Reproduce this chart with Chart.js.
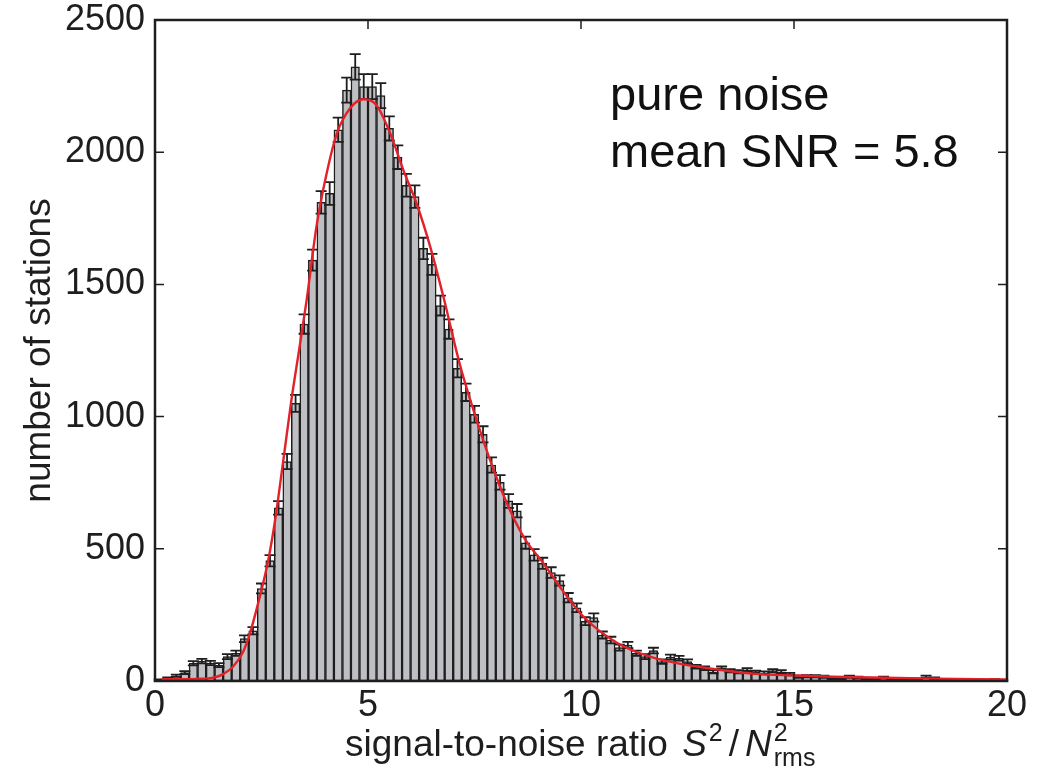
<!DOCTYPE html>
<html>
<head>
<meta charset="utf-8">
<script src="https://cdn.jsdelivr.net/npm/chart.js@4.4.1/dist/chart.umd.min.js"></script>
<style>
  html, body { margin: 0; padding: 0; background: #fff; }
  #wrap { width: 1055px; height: 771px; }
</style>
</head>
<body>
<div id="wrap"><canvas id="myChart" width="1055" height="771"></canvas></div>
<script>
// histogram of SNR, bins 0.2 wide from 0 to 20
const binWidth = 0.2;
const counts = [
  4, 10, 20, 32, 67, 75, 68, 60, 92, 105,
  160, 190, 350, 455, 655, 830, 1050, 1350, 1592, 1810,
  1844, 2085, 2235, 2323, 2248, 2248, 2214, 2090, 1981, 1875,
  1832, 1636, 1576, 1420, 1331, 1183, 1092, 1009, 933, 817,
  751, 681, 644, 523, 477, 445, 410, 380, 315, 277,
  226, 240, 174, 155, 126, 136, 105, 92, 115, 73,
  90, 86, 73, 54, 48, 35, 48, 39, 35, 42,
  33, 31, 39, 35, 26, 16, 18, 18, 16, 10,
  10, 16, 13, 8, 6, 13, 6, 3, 5, 7,
  16, 10, 3, 3, 2, 2, 3, 2, 5, 2
];

// red fitted curve
const fitX = [0.15, 0.5, 1.0, 1.3, 1.45, 1.6, 1.83, 2.07, 2.23, 2.46, 2.66, 2.82, 3.0, 3.2, 3.4, 3.56,
  3.79, 4.03, 4.27, 4.58, 4.89, 5.2, 5.52, 5.83, 6.14, 6.46, 6.77, 7.15, 7.55, 7.95, 8.33, 8.7,
  9.12, 9.5, 10.06, 10.84, 11.62, 12.4, 13.19, 14.1, 15.0, 15.9, 17.9, 20.0];
const fitY = [7, 7, 8, 11, 16, 26, 54, 111, 181, 319, 458, 609, 820, 1060, 1270, 1441,
  1718, 1920, 2071, 2166, 2200, 2178, 2072, 1932, 1806, 1643, 1453, 1201, 987, 798, 647, 533,
  445, 357, 243, 145, 92, 63, 44, 27, 21, 16, 10, 6];

const xTicks = [0, 5, 10, 15, 20];
const yTicks = [0, 500, 1000, 1500, 2000, 2500];
const noteLines = ['pure noise', 'mean SNR = 5.8'];

const FONT = '"Liberation Sans", Arial, Helvetica, sans-serif';
const INK = '#1e1e1e';

const barData = counts.map((c, i) => ({ x: (i + 0.5) * binWidth, y: c }));
const fitData = fitX.map((x, i) => ({ x: x, y: fitY[i] }));

// error bars (Poisson, sqrt N) drawn right after the bars
const errorBars = {
  id: 'errorBars',
  afterDatasetDraw(chart, args) {
    if (args.index !== 0) return;
    const ctx = chart.ctx;
    const xs = chart.scales.x, ys = chart.scales.y;
    ctx.save();
    ctx.strokeStyle = INK;
    ctx.lineWidth = 1.8;
    barData.forEach(p => {
      const e = Math.sqrt(p.y);
      const px = xs.getPixelForValue(p.x);
      const y1 = ys.getPixelForValue(p.y + e);
      const y2 = ys.getPixelForValue(Math.max(p.y - e, 0));
      ctx.beginPath();
      ctx.moveTo(px, y1); ctx.lineTo(px, y2);
      ctx.moveTo(px - 5.5, y1); ctx.lineTo(px + 5.5, y1);
      ctx.moveTo(px - 5.5, y2); ctx.lineTo(px + 5.5, y2);
      ctx.stroke();
    });
    ctx.restore();
  }
};

// box, inward ticks, annotation and x-axis label
const frame = {
  id: 'frame',
  afterDraw(chart) {
    const ctx = chart.ctx;
    const a = chart.chartArea;
    const xs = chart.scales.x, ys = chart.scales.y;
    ctx.save();
    ctx.strokeStyle = INK;
    ctx.lineWidth = 1.5;
    ctx.beginPath();
    yTicks.forEach(v => {
      const py = ys.getPixelForValue(v);
      ctx.moveTo(a.left, py); ctx.lineTo(a.left + 9, py);
      ctx.moveTo(a.right, py); ctx.lineTo(a.right - 9, py);
    });
    xTicks.forEach(v => {
      const px = xs.getPixelForValue(v);
      ctx.moveTo(px, a.bottom); ctx.lineTo(px, a.bottom - 9);
      ctx.moveTo(px, a.top); ctx.lineTo(px, a.top + 9);
    });
    ctx.stroke();
    ctx.lineWidth = 2.5;
    ctx.strokeRect(a.left, a.top, a.right - a.left, a.bottom - a.top);

    // annotation
    ctx.fillStyle = '#111';
    ctx.font = '47px ' + FONT;
    ctx.textBaseline = 'alphabetic';
    ctx.textAlign = 'left';
    ctx.fillText(noteLines[0], 610, 110);
    ctx.fillText(noteLines[1], 610, 167);

    // x-axis title with super/subscripts
    ctx.fillStyle = INK;
    let x = 345;
    const base = 756;
    ctx.font = '37px ' + FONT;
    const t1 = 'signal-to-noise ratio ';
    ctx.fillText(t1, x, base); x += ctx.measureText(t1).width + 4;
    ctx.font = 'italic 37px ' + FONT;
    ctx.fillText('S', x, base); x += ctx.measureText('S').width + 2;
    ctx.font = '25px ' + FONT;
    ctx.fillText('2', x, base - 15); x += ctx.measureText('2').width + 6;
    ctx.font = '37px ' + FONT;
    ctx.fillText('/', x, base); x += ctx.measureText('/').width + 6;
    ctx.font = 'italic 37px ' + FONT;
    ctx.fillText('N', x, base); x += ctx.measureText('N').width + 2;
    ctx.font = '25px ' + FONT;
    ctx.fillText('2', x, base - 15);
    ctx.fillText('rms', x, base + 10);
    ctx.restore();
  }
};

const ctx = document.getElementById('myChart').getContext('2d');
new Chart(ctx, {
  type: 'bar',
  data: {
    datasets: [{
      type: 'bar',
      data: barData,
      backgroundColor: '#bebfc3',
      borderColor: INK,
      borderWidth: 1.5,
      borderSkipped: false,
      barPercentage: 1,
      categoryPercentage: 1,
      order: 1
    }, {
      type: 'line',
      data: fitData,
      borderColor: '#e3212b',
      borderWidth: 2.4,
      pointRadius: 0,
      cubicInterpolationMode: 'monotone',
      fill: false,
      order: 0
    }]
  },
  options: {
    responsive: false,
    animation: false,
    layout: { padding: { top: 20, right: 48, left: 0, bottom: 0 } },
    plugins: { legend: { display: false }, tooltip: { enabled: false } },
    scales: {
      x: {
        type: 'linear',
        min: 0, max: 20,
        offset: false,
        afterBuildTicks: s => { s.ticks = xTicks.map(v => ({ value: v })); },
        afterFit: s => { s.height = 90; s.paddingLeft = 0; s.paddingRight = 0; },
        grid: { display: false, drawTicks: false },
        border: { display: false },
        ticks: { color: INK, padding: 7, maxRotation: 0, callback: v => String(v),
          font: { family: FONT, size: 36, lineHeight: 1 } },
        title: { display: false }
      },
      y: {
        min: 0, max: 2500,
        afterBuildTicks: s => { s.ticks = yTicks.map(v => ({ value: v })); },
        afterFit: s => { s.width = 155; s.paddingTop = 0; s.paddingBottom = 0; },
        grid: { display: false, drawTicks: false },
        border: { display: false },
        ticks: { color: INK, padding: 10, callback: v => String(v),
          font: { family: FONT, size: 36, lineHeight: 1 } },
        title: {
          display: true,
          text: 'number of stations',
          color: INK,
          padding: { top: 18, bottom: 0 },
          font: { family: FONT, size: 37 }
        }
      }
    }
  },
  plugins: [errorBars, frame]
});
</script>
</body>
</html>
